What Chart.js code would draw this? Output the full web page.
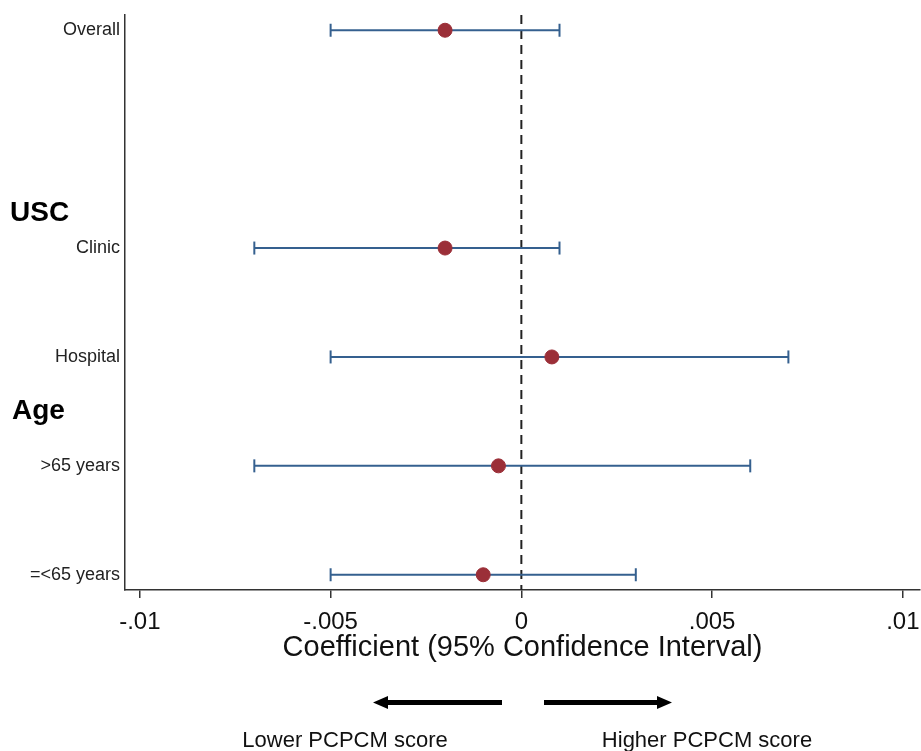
<!DOCTYPE html>
<html>
<head>
<meta charset="utf-8">
<script src="https://cdn.jsdelivr.net/npm/chart.js@4/dist/chart.umd.min.js"></script>
<style>
html,body{margin:0;padding:0;background:#fff;}
canvas{display:block;}
</style>
</head>
<body>
<canvas id="c" width="921" height="751"></canvas>
<script>
const categories = ['Overall', 'Clinic', 'Hospital', '>65 years', '=<65 years'];
const rowIndex = [0, 2, 3, 4, 5];
const estimates = [-0.002, -0.002, 0.0008, -0.0006, -0.001];
const lowerCI = [-0.005, -0.007, -0.005, -0.007, -0.005];
const upperCI = [0.001, 0.001, 0.007, 0.006, 0.003];
const xTickValues = [-0.01, -0.005, 0, 0.005, 0.01];
const xTickLabels = ['-.01', '-.005', '0', '.005', '.01'];
const groupLabels = ['USC', 'Age'];
const arrowLabels = ['Lower PCPCM score', 'Higher PCPCM score'];
const xTitle = 'Coefficient (95% Confidence Interval)';

const FONT = "'Liberation Sans', Arial, sans-serif";
const lineColor = '#35608f';
const dotColor = '#9b2f38';

const Y_MIN = -0.14, Y_MAX = 5.14;

const datasets = [];
datasets.push({
  type: 'scatter',
  data: estimates.map((v, i) => ({x: v, y: rowIndex[i]})),
  backgroundColor: dotColor,
  borderColor: dotColor,
  pointRadius: 7,
  pointHoverRadius: 7,
  order: 0
});
categories.forEach((c, i) => {
  datasets.push({
    type: 'line',
    data: [{x: lowerCI[i], y: rowIndex[i]}, {x: upperCI[i], y: rowIndex[i]}],
    borderColor: lineColor,
    backgroundColor: lineColor,
    borderWidth: 2,
    pointStyle: 'line',
    pointRotation: 90,
    pointRadius: 6.5,
    pointBorderWidth: 2,
    pointBorderColor: lineColor,
    fill: false,
    order: 1
  });
});
datasets.push({
  type: 'line',
  data: [{x: 0, y: Y_MIN}, {x: 0, y: Y_MAX}],
  borderColor: '#222',
  borderWidth: 2,
  borderDash: [9, 6],
  pointRadius: 0,
  fill: false,
  order: 2
});

const extras = {
  id: 'extras',
  afterDraw(chart) {
    const ctx = chart.ctx;
    ctx.save();
    ctx.fillStyle = '#000';
    ctx.font = "bold 28px " + FONT;
    ctx.textAlign = 'left';
    ctx.textBaseline = 'alphabetic';
    ctx.fillText(groupLabels[0], 10, 221);
    ctx.fillText(groupLabels[1], 12, 419);

    // arrows
    ctx.fillStyle = '#000';
    const ay = 702.5;
    ctx.fillRect(386, ay - 2.5, 116, 5);
    ctx.beginPath();
    ctx.moveTo(373, ay);
    ctx.lineTo(388, ay - 6.5);
    ctx.lineTo(388, ay + 6.5);
    ctx.closePath();
    ctx.fill();
    ctx.fillRect(544, ay - 2.5, 115, 5);
    ctx.beginPath();
    ctx.moveTo(672, ay);
    ctx.lineTo(657, ay - 6.5);
    ctx.lineTo(657, ay + 6.5);
    ctx.closePath();
    ctx.fill();

    ctx.font = "22px " + FONT;
    ctx.textAlign = 'center';
    ctx.textBaseline = 'middle';
    ctx.fillStyle = '#111';
    ctx.fillText(arrowLabels[0], 345, 741);
    ctx.fillText(arrowLabels[1], 707, 741);
    ctx.restore();
  }
};

new Chart(document.getElementById('c'), {
  type: 'scatter',
  data: { datasets },
  options: {
    responsive: false,
    animation: false,
    devicePixelRatio: 1,
    layout: { autoPadding: false, padding: { top: 15, right: 1, left: 0, bottom: 0 } },
    plugins: { legend: { display: false }, tooltip: { enabled: false } },
    scales: {
      x: {
        type: 'linear',
        min: -0.01039,
        max: 0.01045,
        afterBuildTicks: (s) => { s.ticks = xTickValues.map(v => ({value: v})); },
        afterFit: (s) => { s.height = 161; s.paddingLeft = 0; s.paddingRight = 0; },
        ticks: {
          callback: (v) => { const i = xTickValues.indexOf(v); return i >= 0 ? xTickLabels[i] : ''; },
          font: { family: FONT, size: 24 },
          color: '#111',
          padding: 10,
          maxRotation: 0,
          autoSkip: false
        },
        grid: { display: true, drawOnChartArea: false, drawTicks: true, tickLength: 8, color: '#333', lineWidth: 1.5 },
        border: { display: true, color: '#333', width: 1.5 },
        title: {
          display: true,
          text: xTitle,
          font: { family: FONT, size: 29 },
          color: '#111',
          padding: { top: 0, bottom: 86 }
        }
      },
      y: {
        type: 'linear',
        reverse: true,
        min: Y_MIN,
        max: Y_MAX,
        afterBuildTicks: (s) => { s.ticks = rowIndex.map(v => ({value: v})); },
        afterFit: (s) => { s.width = 125; s.paddingTop = 0; s.paddingBottom = 0; },
        ticks: {
          callback: (v) => { const i = rowIndex.indexOf(v); return i >= 0 ? categories[i] : ''; },
          font: { family: FONT, size: 18 },
          color: '#222',
          padding: 5,
          autoSkip: false
        },
        grid: { display: true, drawOnChartArea: false, drawTicks: false, color: '#333', lineWidth: 1.5 },
        border: { display: true, color: '#333', width: 1.5 }
      }
    }
  },
  plugins: [extras]
});
</script>
</body>
</html>
